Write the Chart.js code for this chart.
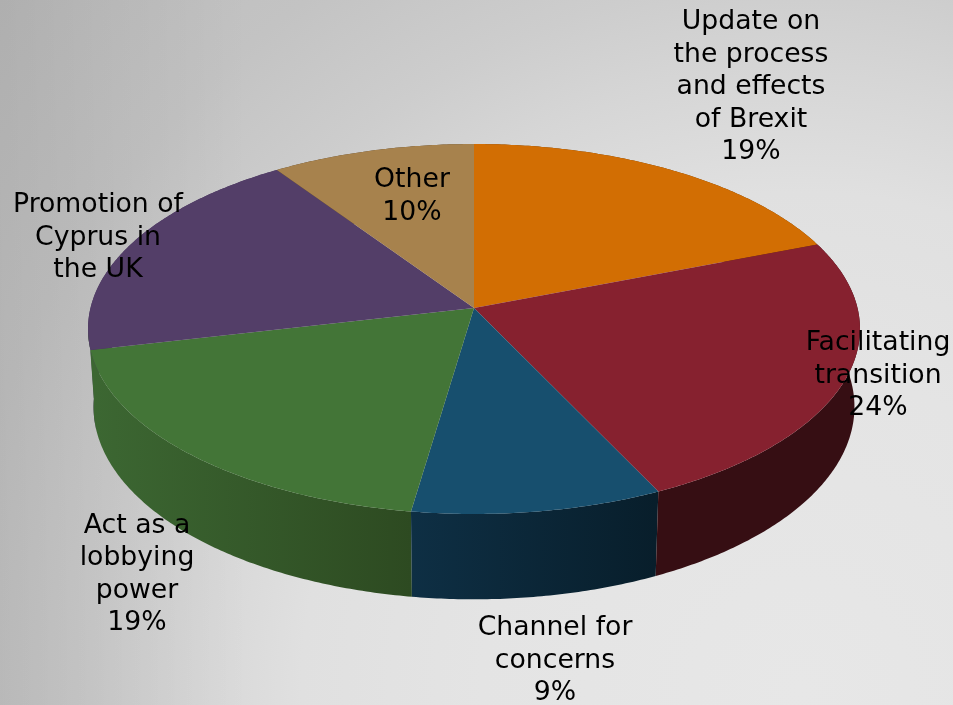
<!DOCTYPE html>
<html>
<head>
<meta charset="utf-8">
<title>Pie</title>
<script src="https://cdn.jsdelivr.net/npm/chart.js@4"></script>
<style>
html, body { margin: 0; padding: 0; }
body {
  width: 953px; height: 705px; overflow: hidden;
  background:
    linear-gradient(to right, rgba(0,0,0,0.07) 0, rgba(0,0,0,0) 250px),
    radial-gradient(circle 1060px at 800px 690px, #e7e7e7 0%, #e4e4e4 30%, #e0e0e0 47%, #d6d6d6 58%, #cdcdcd 67%, #c3c3c3 80%, #bcbcbc 100%);
}
canvas { display: block; }
</style>
</head>
<body>
<canvas id="myChart" width="953" height="705"></canvas>
<script>
var categories = ["Update on|the process|and effects|of Brexit", "Facilitating|transition", "Channel for|concerns", "Act as a|lobbying|power", "Promotion of|Cyprus in|the UK", "Other"];
var values = [19.1, 23.8, 9.43, 19.07, 19.1, 9.5];
var percentLabels = ["19%", "24%", "9%", "19%", "", "10%"];
var topColors = ["#d26e03", "#86212f", "#174f6e", "#437537", "#533e68", "#a7824d"];
var wallColors = [["#6a3802", "#6a3802"], ["#360e13", "#360e13"], ["#0e2f44", "#081e2b"], ["#3c6732", "#2d4a21"], ["#46345a", "#46345a"], ["#54412a", "#54412a"]];

// where each label sits: centre x, first baseline y
var labelX = [751, 878, 555, 137, 98, 412];
var labelY = [29, 350, 635, 532.5, 212, 187];
var linePitch = 32.6;

// the plate seen in perspective
var persp = -0.1135;
var topRim = { x: 474, y: 308, a: 383.5, b: 182.6 };
var lowRim = { x: 474, y: 385, a: 378, b: 190 };
// green wall wraps round the left edge a little further than its slice
var wallExtend = [0, 0, 0, 0.15, 0, 0];

function rimPoint(rim, angle) {
  var px = Math.cos(angle), py = Math.sin(angle);
  var w = 1 + persp * py;
  return [rim.x + rim.a * px / w, rim.y + rim.b * py / w];
}

function traceRim(ctx, rim, from, to) {
  var steps = Math.max(2, Math.ceil(Math.abs(to - from) / 0.01));
  for (var i = 0; i <= steps; i++) {
    var p = rimPoint(rim, from + (to - from) * i / steps);
    ctx.lineTo(p[0], p[1]);
  }
}

var pie3d = {
  id: "pie3d",
  beforeDatasetsDraw: function (chart) {
    var ctx = chart.ctx;
    var arcs = chart.getDatasetMeta(0).data;
    ctx.save();

    // side wall, last slices first so the green one lands over the purple
    for (var i = arcs.length - 1; i >= 0; i--) {
      var a = arcs[i].startAngle, b = arcs[i].endAngle + wallExtend[i];
      var p0 = rimPoint(lowRim, a), p1 = rimPoint(lowRim, b);
      var g = ctx.createLinearGradient(Math.min(p0[0], p1[0]), 0, Math.max(p0[0], p1[0]), 0);
      g.addColorStop(0, wallColors[i][0]);
      g.addColorStop(1, wallColors[i][1]);
      ctx.fillStyle = g;
      ctx.beginPath();
      traceRim(ctx, topRim, a, b);
      traceRim(ctx, lowRim, b, a);
      ctx.closePath();
      ctx.fill();
    }

    // top face
    arcs.forEach(function (arc, i) {
      ctx.fillStyle = topColors[i];
      ctx.beginPath();
      ctx.moveTo(topRim.x, topRim.y);
      traceRim(ctx, topRim, arc.startAngle, arc.endAngle);
      ctx.closePath();
      ctx.fill();
    });

    ctx.restore();
    return false;
  },
  afterDraw: function (chart) {
    var ctx = chart.ctx;
    ctx.save();
    ctx.fillStyle = "#000000";
    ctx.font = "26.7px 'DejaVu Sans'";
    ctx.textAlign = "center";
    ctx.textBaseline = "alphabetic";
    categories.forEach(function (cat, i) {
      var lines = cat.split("|");
      if (percentLabels[i]) lines.push(percentLabels[i]);
      lines.forEach(function (line, n) {
        ctx.fillText(line, labelX[i], labelY[i] + n * linePitch);
      });
    });
    ctx.restore();
  }
};

new Chart("myChart", {
  type: "pie",
  data: {
    labels: categories,
    datasets: [{
      backgroundColor: topColors,
      borderWidth: 0,
      data: values
    }]
  },
  options: {
    responsive: false,
    animation: false,
    plugins: {
      legend: { display: false },
      tooltip: { enabled: false }
    }
  },
  plugins: [pie3d]
});
</script>
</body>
</html>
